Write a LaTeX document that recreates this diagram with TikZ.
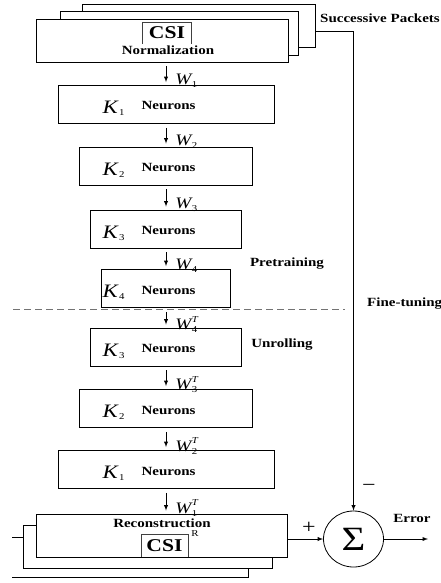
\documentclass[tikz,border=0pt]{standalone}
\usepackage{fontspec}
\setmainfont{Liberation Serif}[FakeStretch=1.2]
\usetikzlibrary{shapes.geometric,arrows,positioning,calc}

\newcommand{\kay}[1]{{\fontsize{19}{19}\selectfont\mdseries\raisebox{-3.5pt}{\textit{K}\kern0.5pt\raisebox{-2pt}{\fontsize{9}{9}\selectfont #1}}}}
\newcommand{\wgt}[2]{\textit{W}\kern-1pt\rlap{\raisebox{-3pt}{\fontsize{9}{9}\selectfont #1}}\raisebox{7.5pt}{\fontsize{9}{9}\selectfont\textit{#2}}}

\begin{document}
\begin{tikzpicture}
	[ x=1pt, y=-1pt,
	  box/.style={ draw, fill=white, line width=0.8pt, inner sep=0pt, minimum height=38pt},
	  lbl/.style={ font=\fontsize{12.5}{14}\selectfont\bfseries, inner sep=0pt},
	  csitxt/.style={ inner sep=0pt, font=\fontsize{18}{18}\selectfont\bfseries},
	  csibar/.style={ line width=0.6pt, black!75},
	  layer/.style={ lbl, anchor=base},
	  wlab/.style={ anchor=west, inner sep=0pt, xshift=9pt, yshift=-7pt, font=\fontsize{16}{16}\selectfont},
	  flow/.style={ -latex, line width=0.9pt, shorten <=4pt, shorten >=3pt},
	  link/.style={ -latex, line width=0.9pt},
	  sign/.style={ inner sep=0pt, font=\fontsize{20}{20}\selectfont}
	]
	\useasboundingbox (0,0) rectangle (441,583);

	% input packets
	\node[box, minimum width=233pt, minimum height=43pt] (nb) at (198.5,25.5) {};
	\node[box, minimum width=238pt, minimum height=44pt] (nm) at (179,33) {};
	\node[box, minimum width=252pt, minimum height=43pt] (nf) at (162,40.5) {};
	\node[csitxt, minimum width=49pt, minimum height=21pt] (csi1) at (167,33) {CSI};
	\draw[csibar] (csi1.south west) |- (csi1.north east) -- (csi1.south east);
	\node[lbl] (norm) at (168,50) {Normalization};
	\node[lbl, anchor=west] (succ) at (320,18) {Successive Packets};

	% encoder
	\node[box, minimum width=216pt] (k1a) at (166,104.5) {};
	\node[box, minimum width=173pt] (k2a) at (166,166) {};
	\node[box, minimum width=151pt] (k3a) at (166,229) {};
	\node[box, minimum width=129pt] (k4) at (166,288.5) {};
	\node[layer] (t1a) at ([shift={(-17,5.5)}]k1a.center) {\kay{1}\hspace{17pt}Neurons};
	\node[layer] (t2a) at ([shift={(-17,5.5)}]k2a.center) {\kay{2}\hspace{17pt}Neurons};
	\node[layer] (t3a) at ([shift={(-17,5.5)}]k3a.center) {\kay{3}\hspace{17pt}Neurons};
	\node[layer] (t4) at ([shift={(-17,5.5)}]k4.center) {\kay{4}\hspace{17pt}Neurons};
	\node[lbl] (pre) at (287,264) {Pretraining};

	% decoder
	\node[box, minimum width=151pt] (k3b) at (166,347) {};
	\node[box, minimum width=173pt] (k2b) at (166,408.5) {};
	\node[box, minimum width=216pt] (k1b) at (166,469.5) {};
	\node[layer] (t3b) at ([shift={(-17,5.5)}]k3b.center) {\kay{3}\hspace{17pt}Neurons};
	\node[layer] (t2b) at ([shift={(-17,5.5)}]k2b.center) {\kay{2}\hspace{17pt}Neurons};
	\node[layer] (t1b) at ([shift={(-17,5.5)}]k1b.center) {\kay{1}\hspace{17pt}Neurons};
	\node[lbl] (unroll) at (282,345) {Unrolling};

	\draw[black!55, line width=0.8pt, dash pattern=on 7pt off 4pt] (13,309) -- (345,309);
	\node[lbl, anchor=west] (fine) at (367,304) {Fine-tuning};

	% output packets
	\draw[line width=0.8pt] (12,537) -| (248,577) -- (12,577);
	\node[box, minimum width=249pt, minimum height=43pt] (rm) at (147.5,546.5) {};
	\node[box, minimum width=251pt, minimum height=43pt] (rf) at (161.5,535.5) {};
	\node[lbl] (recon) at (162,523) {Reconstruction};
	\node[csitxt, minimum width=47pt, minimum height=23pt] (csi2) at (164.5,545.5) {CSI};
	\draw[csibar] (csi2.south west) |- (csi2.north east) -- (csi2.south east);
	\node[inner sep=0pt, anchor=west, font=\fontsize{9}{9}\selectfont] (rsup) at ([xshift=3pt]csi2.north east) {R};

	% weights
	\draw[flow] (k1a.north |- nf.south) -- node[wlab] {\wgt{1}{}} (k1a.north);
	\draw[flow] (k1a.south) -- node[wlab] {\wgt{2}{}} (k2a.north);
	\draw[flow] (k2a.south) -- node[wlab] {\wgt{3}{}} (k3a.north);
	\draw[flow] (k3a.south) -- node[wlab] {\wgt{4}{}} (k4.north);
	\draw[flow] (k4.south) -- node[wlab] {\wgt{4}{T}} (k3b.north);
	\draw[flow] (k3b.south) -- node[wlab] {\wgt{3}{T}} (k2b.north);
	\draw[flow] (k2b.south) -- node[wlab] {\wgt{2}{T}} (k1b.north);
	\draw[flow] (k1b.south) -- node[wlab] {\wgt{1}{T}} (k1b.south |- rf.north);

	% error
	\node[draw, ellipse, line width=0.8pt, minimum width=60pt, minimum height=56pt, inner sep=0pt,
	      font=\fontsize{34}{34}\selectfont] (sig) at (353.5,539) {Σ};
	\coordinate (fb) at (353.5,31);
	\coordinate (err) at (428,539);
	\draw[link] (nb.east |- fb) -- (fb) -- (sig.north);
	\draw[link] (rf.east |- sig.west) -- (sig.west);
	\draw[link] (sig.east) -- (err);
	\node[sign] (plus) at (309,528) {+};
	\node[sign] (minus) at (369,488) {−};
	\node[lbl] (error) at (412,518) {Error};
\end{tikzpicture}
\end{document}
